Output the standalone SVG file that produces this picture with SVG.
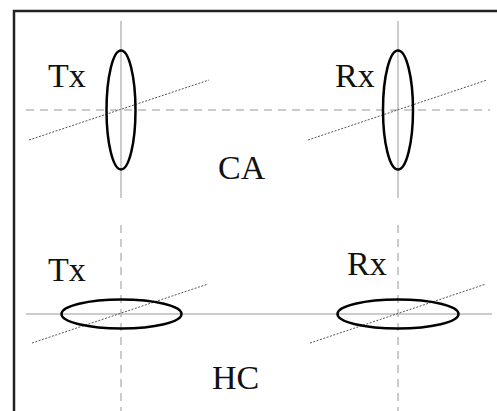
<svg xmlns="http://www.w3.org/2000/svg" width="497" height="411" viewBox="0 0 497 411">
<style>
.frame{fill:none;stroke:#222;stroke-width:2.5}
.ant{fill:none;stroke:#000;stroke-width:2.5}
.solid{stroke:#bbb;stroke-width:1.5;fill:none}
.dash{stroke:#bbb;stroke-width:1.5;stroke-dasharray:8 6;fill:none}
.dot{stroke:#555;stroke-width:1;stroke-dasharray:2 1.5;fill:none}
.lbl{font-family:"Liberation Serif","Times New Roman",serif;font-size:34px;fill:#111}
</style>
<rect width="497" height="411" fill="#fff"/>
<path class="frame" d="M14 411 V11 H497"/>
<g id="connectors">
<line class="solid" x1="121" y1="21" x2="121" y2="198"/>
<line class="solid" x1="398" y1="21" x2="398" y2="198"/>
<line class="dash" x1="26" y1="110" x2="490" y2="110"/>
<line class="dot" x1="29" y1="140" x2="209" y2="80"/>
<line class="dot" x1="308" y1="140" x2="487" y2="80"/>
<line class="solid" x1="26" y1="314" x2="492" y2="314"/>
<line class="dash" x1="121" y1="225" x2="121" y2="411"/>
<line class="dash" x1="398" y1="225" x2="398" y2="411"/>
<line class="dot" x1="32" y1="343" x2="208" y2="284"/>
<line class="dot" x1="310" y1="343" x2="486" y2="284"/>
</g>
<g id="ca-tx"><ellipse class="ant" cx="121" cy="110" rx="14.5" ry="59.5"/><text class="lbl" x="48" y="87">Tx</text></g>
<g id="ca-rx"><ellipse class="ant" cx="398" cy="110" rx="15" ry="59.5"/><text class="lbl" x="335" y="87">Rx</text></g>
<g id="ca-label"><text class="lbl" x="218" y="179">CA</text></g>
<g id="hc-tx"><ellipse class="ant" cx="121.5" cy="314" rx="60" ry="14.5"/><text class="lbl" x="48" y="281">Tx</text></g>
<g id="hc-rx"><ellipse class="ant" cx="398" cy="314" rx="60.5" ry="14.5"/><text class="lbl" x="347" y="275">Rx</text></g>
<g id="hc-label"><text class="lbl" x="212" y="389">HC</text></g>
</svg>
